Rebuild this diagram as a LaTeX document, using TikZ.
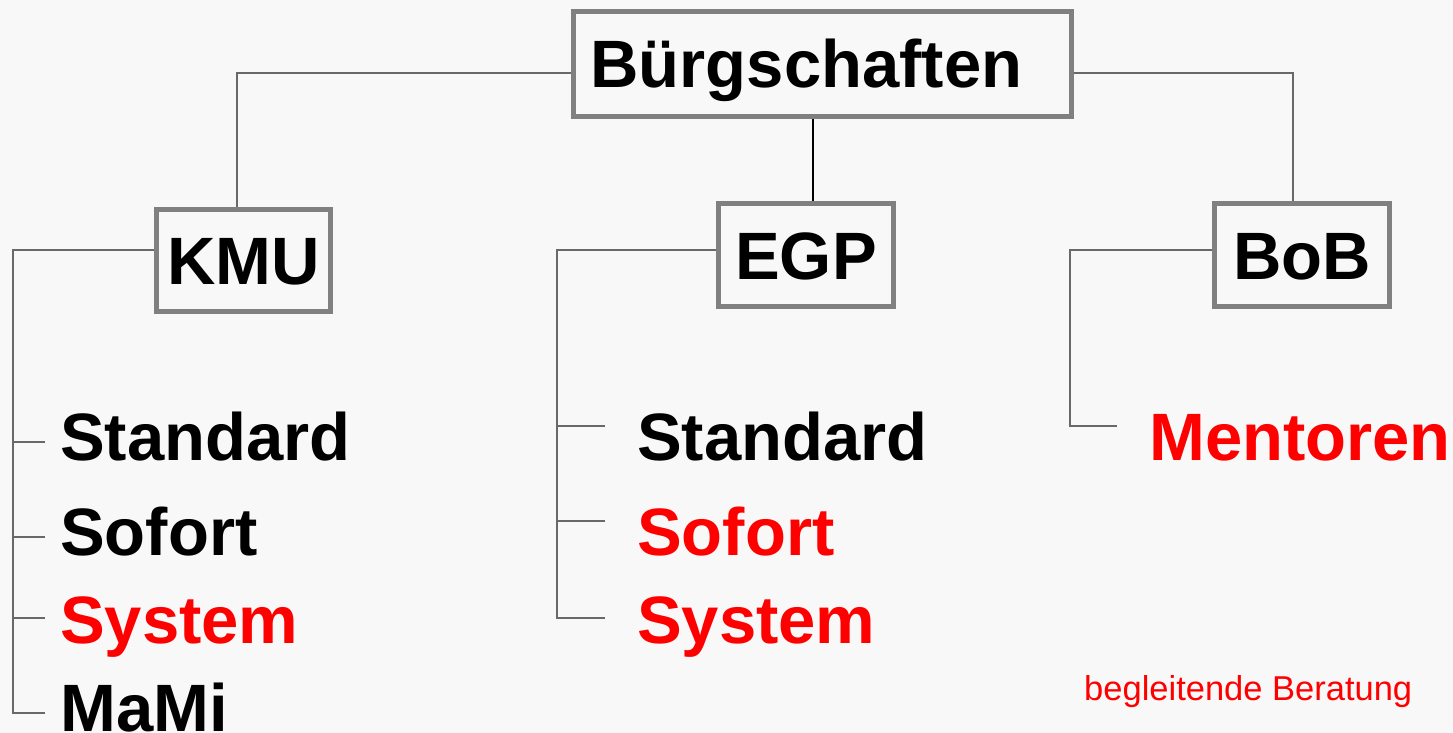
\documentclass[tikz,border=0pt]{standalone}
\usepackage{fontspec}
\setmainfont{Liberation Sans}
\definecolor{bg}{RGB}{248,248,248}
\definecolor{rahmen}{RGB}{128,128,128}
\definecolor{linie}{RGB}{105,105,105}
\begin{document}
\begin{tikzpicture}[x=1pt,y=-1pt,
  box/.style={draw=rahmen,line width=4.6pt,fill=bg,inner sep=0pt,text height=48pt,text depth=0pt,font=\fontsize{67}{70}\selectfont\bfseries},
  item/.style={anchor=base west,inner sep=0pt,font=\fontsize{67}{70}\selectfont\bfseries},
  conn/.style={draw=linie,line width=1.6pt}]
\tikzstyle{every node}+=[inner sep=0pt]
\fill [bg] (0,0) rectangle (1453,733);
\useasboundingbox (0,0) rectangle (1453,733);
% Kaesten
\node [box,text width=464pt,align=left,inner xsep=17pt,minimum height=105.5pt] (buerg) at (822.5,64) {Bürgschaften};
\node [box,minimum width=174.5pt,minimum height=102.5pt] (kmu) at (243.5,260.5) {KMU};
\node [box,minimum width=175.5pt,minimum height=103.5pt] (egp) at (806,255) {EGP};
\node [box,minimum width=175.5pt,minimum height=103.5pt] (bob) at (1302,255) {BoB};
% Eintraege
\node [item] (k1) at (60,460) {Standard};
\node [item] (k2) at (60,555) {Sofort};
\node [item,red] (k3) at (60,643) {System};
\node [item] (k4) at (60,731) {MaMi};
\node [item] (e1) at (637,460) {Standard};
\node [item,red] (e2) at (637,555) {Sofort};
\node [item,red] (e3) at (637,643) {System};
\node [item,red] (b1) at (1149,460) {Mentoren};
\node [anchor=base west,red,font=\fontsize{34.5}{36}\selectfont] (note) at (1084,700) {begleitende Beratung};
\coordinate (kt1) at (45,442);
\coordinate (kt2) at (45,537);
\coordinate (kt3) at (45,618);
\coordinate (kt4) at (45,713);
\coordinate (et1) at (605,426);
\coordinate (et2) at (605,521);
\coordinate (et3) at (605,618);
\coordinate (bt1) at (1117,426);
% Verbindungen
\draw [conn] ([yshift=-9pt]buerg.west) -| ([xshift=-6.5pt]kmu.north);
\draw [conn] ([yshift=-9pt]buerg.east) -| ([xshift=-9pt]bob.north);
\draw [black,line width=2pt] ([xshift=7pt]egp.north) -- ([xshift=7pt]egp.north |- buerg.south);
\draw [conn] ([yshift=10.5pt]kmu.west) -| ([xshift=-32pt]kt4) -- (kt4);
\foreach \t in {kt1,kt2,kt3}
  \draw [conn] (\t) -- ++(-32,0);
\draw [conn] ([yshift=5pt]egp.west) -| ([xshift=-48pt]et3) -- (et3);
\foreach \t in {et1,et2}
  \draw [conn] (\t) -- ++(-48,0);
\draw [conn] ([yshift=5pt]bob.west) -| ([xshift=-47pt]bt1) -- (bt1);
\end{tikzpicture}
\end{document}
